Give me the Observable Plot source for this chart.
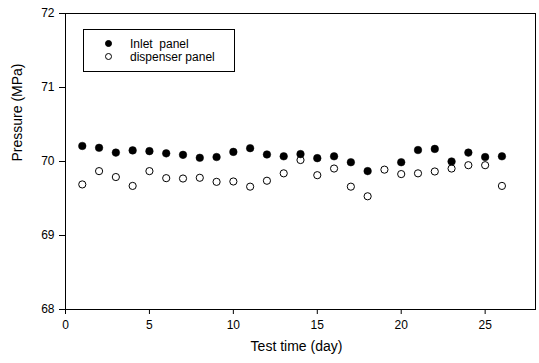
<!DOCTYPE html>
<html>
<head>
<meta charset="utf-8">
<script src="https://cdn.jsdelivr.net/npm/d3@7"></script>
<script src="https://cdn.jsdelivr.net/npm/@observablehq/plot@0.6"></script>
<style>
  html, body { margin: 0; padding: 0; background: #fff; }
  #wrap { position: relative; width: 539px; height: 363px; font-family: "Liberation Sans", Arial, sans-serif; }
  #legend { position: absolute; left: 83px; top: 29px; width: 150px; height: 41px; border: 1px solid #000; background: #fff; font-size: 12px; color: #000; }
  .row { position: absolute; left: 0; height: 14px; line-height: 14px; white-space: pre; }
  .sym { position: absolute; left: 21px; top: 3px; width: 7px; height: 7px; border-radius: 50%; box-sizing: border-box; }
  .lab { position: absolute; left: 46px; top: 0; }
</style>
</head>
<body>
<div id="wrap"></div>
<script>
const days = [1,2,3,4,5,6,7,8,9,10,11,12,13,14,15,16,17,18,19,20,21,22,23,24,25,26];
const inletPanel = [70.21,70.185,70.12,70.15,70.14,70.11,70.09,70.05,70.06,70.13,70.18,70.095,70.07,70.10,70.045,70.07,69.99,69.87,null,69.99,70.155,70.17,70.0,70.12,70.06,70.07];
const dispenserPanel = [69.69,69.87,69.79,69.67,69.87,69.775,69.77,69.78,69.725,69.73,69.66,69.74,69.84,70.02,69.815,69.905,69.66,69.53,69.89,69.83,69.84,69.865,69.905,69.95,69.95,69.67];
const seriesNames = ["Inlet  panel", "dispenser panel"];
const xTicks = [0,5,10,15,20,25];
const yTicks = [68,69,70,71,72];
const xLabel = "Test time (day)";
const yLabel = "Pressure (MPa)";

const inletData = days.map((d,i) => ({day:d, p:inletPanel[i]})).filter(d => d.p != null);
const dispData = days.map((d,i) => ({day:d, p:dispenserPanel[i]})).filter(d => d.p != null);

const chart = Plot.plot({
  width: 539, height: 363,
  marginLeft: 65, marginRight: 4, marginTop: 13, marginBottom: 54,
  style: {fontFamily: '"Liberation Sans", Arial, sans-serif', fontSize: "12px", color: "#000", background: "#fff"},
  x: {domain: [0, 28]},
  y: {domain: [68, 72]},
  marks: [
    Plot.frame({stroke: "#000", strokeWidth: 1}),
    Plot.axisX({ticks: xTicks, tickFormat: d3.format("d"), tickSize: 5, tickPadding: 6, label: null, stroke: "#000"}),
    Plot.axisY({ticks: yTicks, tickFormat: d3.format("d"), tickSize: 6, tickPadding: 5, label: null, stroke: "#000"}),
    Plot.text([xLabel], {frameAnchor: "bottom", dy: 41, dx: -4, fontSize: 14, fill: "#000"}),
    Plot.text([yLabel], {frameAnchor: "left", dx: -48, rotate: -90, fontSize: 14, fill: "#000"}),
    Plot.dot(dispData, {x: "day", y: "p", r: 3.6, fill: "#fff", stroke: "#000", strokeWidth: 1}),
    Plot.dot(inletData, {x: "day", y: "p", r: 3.8, fill: "#000", stroke: "#000", strokeWidth: 0.5})
  ]
});
const wrap = document.getElementById("wrap");
wrap.appendChild(chart);

const legend = document.createElement("div");
legend.id = "legend";
seriesNames.forEach((name, i) => {
  const row = document.createElement("div");
  row.className = "row";
  row.style.top = (7 + i * 13) + "px";
  row.style.width = "100%";
  const sym = document.createElement("div");
  sym.className = "sym";
  sym.style.background = i === 0 ? "#000" : "#fff";
  sym.style.border = "1px solid #000";
  const lab = document.createElement("div");
  lab.className = "lab";
  lab.textContent = name;
  row.appendChild(sym);
  row.appendChild(lab);
  legend.appendChild(row);
});
wrap.appendChild(legend);
</script>
</body>
</html>
